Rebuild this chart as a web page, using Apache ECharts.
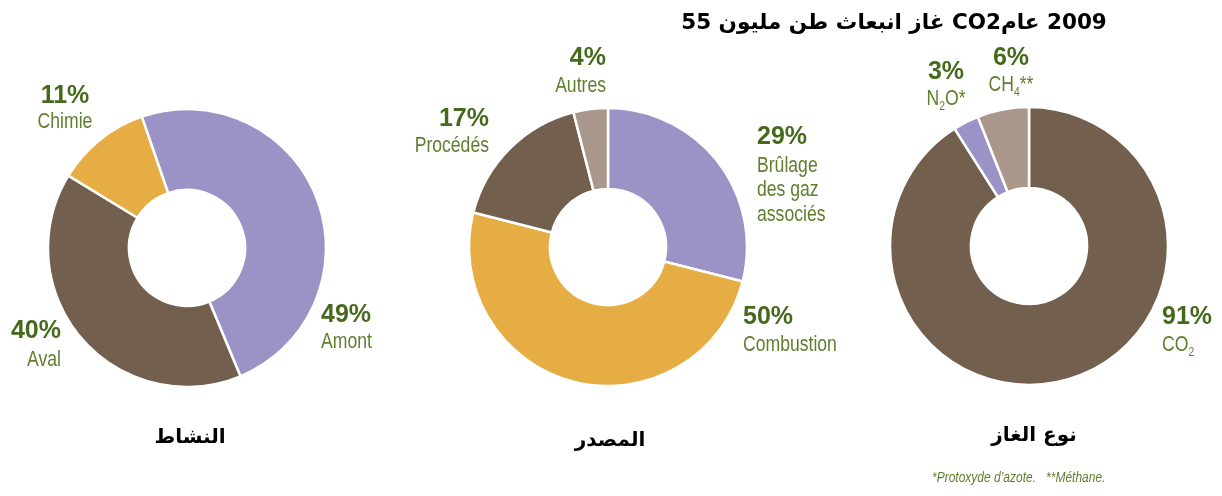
<!DOCTYPE html>
<html><head><meta charset="utf-8">
<script src="https://cdn.jsdelivr.net/npm/echarts@6/dist/echarts.min.js"></script>
<style>html,body{margin:0;padding:0;background:#fff}#c{width:1222px;height:496px}</style>
</head><body><div id="c"></div>
<script>
// ---- Data ----
const activityNames = ['Amont', 'Aval', 'Chimie'];
const activityValues = [49, 40, 11];
const sourceNames = ['Brûlage des gaz associés', 'Combustion', 'Procédés', 'Autres'];
const sourceValues = [29, 50, 17, 4];
const gasNames = ['CO2', 'N2O', 'CH4'];
const gasValues = [91, 3, 6];
const pieTitles = ['النشاط', 'المصدر', 'نوع الغاز'];
// main title words, in the left-to-right order in which they appear
const titleWords = ['55', ' ', 'مليون', ' ', 'طن', ' ', 'انبعاث', ' ', 'غاز', ' ', 'CO2', 'عام', ' ', '2009'];
const footnote = '*Protoxyde d\u2019azote.   **Méthane.';

// ---- Styles / layout ----
const C = {purple:'#9b93c6', brown:'#735f4e', orange:'#e6ad45', taupe:'#a8978a'};
const activityColors = [C.purple, C.brown, C.orange];
const sourceColors = [C.purple, C.orange, C.brown, C.taupe];
const gasColors = [C.brown, C.purple, C.taupe];
const GREEN_P = '#456a1c', GREEN_N = '#5f7f2f';

const nameText = {
  'Brûlage des gaz associés':'{m|Brûlage}\n{m|des gaz}\n{m|associés}',
  'CO2':'{n|CO}{s|2}', 'N2O':'{n|N}{s|2}{n|O*}', 'CH4':'{n|CH}{s|4}{n|**}'
};
// [x, percent y, name y, align]
const labelPos = [
  [[321,315,342,'left'], [61,331,360,'right'], [65,96,122,'center']],
  [[757,137,190,'left'], [743,317,345,'left'], [489,119,146,'right'], [606,58,86,'right']],
  [[1162,317,345,'left'], [946,72,99,'center'], [1011,58,85,'center']]
];
const centers = [[187,248],[608,247],[1029,246]];
const titlePos = [[185,423],[605,426],[1029,421]];
const allNames = [activityNames, sourceNames, gasNames];

const nameRich = {
  n:{fontFamily:'Liberation Sans', fontSize:22, fill:GREEN_N, color:GREEN_N, lineHeight:28},
  m:{fontFamily:'Liberation Sans', fontSize:22, fill:GREEN_N, color:GREEN_N, lineHeight:24.5},
  s:{fontFamily:'Liberation Sans', fontSize:13, fill:GREEN_N, color:GREEN_N, lineHeight:13, verticalAlign:'bottom'}
};

function makeSeries(idx, names, values, colors) {
  return {
    type:'pie', radius:[58,139], center:centers[idx], startAngle: idx===0 ? 109 : 90,
    clockwise:true, avoidLabelOverlap:false, silent:true,
    itemStyle:{borderColor:'#fff', borderWidth:2.5},
    label:{show:true, position:'outside', fontFamily:'Liberation Sans', fontWeight:'bold', fontSize:25, color:GREEN_P,
      formatter:(p)=>p.value+'%'},
    labelLine:{show:false},
    labelLayout:(params)=>{const q=labelPos[idx][params.dataIndex];return {x:q[0],y:q[1],align:q[3],verticalAlign:'middle'};},
    data: names.map((n,i)=>({name:n, value:values[i], itemStyle:{color:colors[i]}}))
  };
}

// category names drawn as horizontally condensed text
const nameGraphics = [];
allNames.forEach((names, s) => names.forEach((name, i) => {
  const q = labelPos[s][i];
  const txt = nameText[name] || ('{n|' + name + '}');
  nameGraphics.push({type:'text', x:q[0], y:q[2], scaleX:0.8, silent:true,
    style:{text:txt, rich:nameRich, fill:GREEN_N, align:q[3], textAlign:q[3], verticalAlign:'middle', textVerticalAlign:'middle',
      fontFamily:'Liberation Sans', fontSize:22}});
}));

const titleRich = {t:{fontFamily:'DejaVu Sans', fontWeight:'bold', fontSize:21.5, color:'#000', lineHeight:28}};
const titleText = titleWords.map(w => '{t|' + w + '}').join('');
const pieTitleStyle = {fontFamily:'DejaVu Sans', fontWeight:'bold', fontSize:20, color:'#000'};

const chart = echarts.init(document.getElementById('c'), null, {renderer:'canvas'});
chart.setOption({
  animation:false,
  title:[{text:titleText, left:889, top:4, textAlign:'center', textStyle:{rich:titleRich}}].concat(
    pieTitles.map((t,i)=>({text:t, left:titlePos[i][0], top:titlePos[i][1], textAlign:'center', textStyle:pieTitleStyle}))),
  graphic: nameGraphics.concat([
    {type:'text', x:932, y:478, scaleX:0.8, silent:true,
      style:{text:footnote, fill:GREEN_N, font:'italic 15px "Liberation Sans"', align:'left', textAlign:'left', verticalAlign:'middle', textVerticalAlign:'middle'}}
  ]),
  series:[
    makeSeries(0, activityNames, activityValues, activityColors),
    makeSeries(1, sourceNames, sourceValues, sourceColors),
    makeSeries(2, gasNames, gasValues, gasColors)
  ]
});
</script></body></html>
